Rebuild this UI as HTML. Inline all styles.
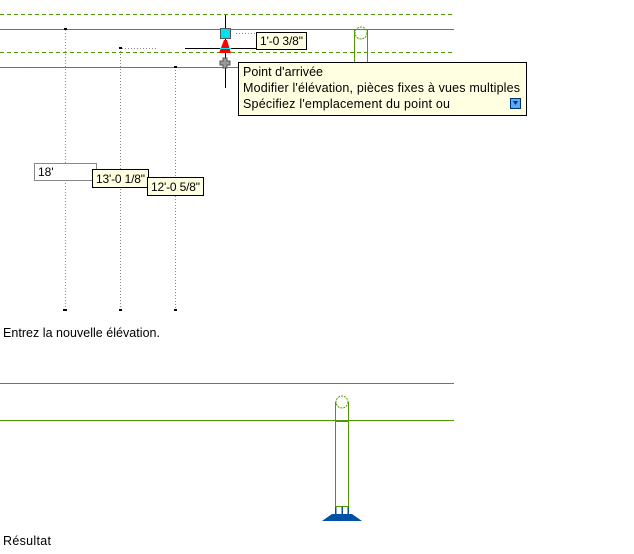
<!DOCTYPE html>
<html><head><meta charset="utf-8"><style>
html,body{margin:0;padding:0;background:#fff;}
svg{display:block;font-family:"Liberation Sans",sans-serif;}
</style></head><body>
<svg width="634" height="554" viewBox="0 0 634 554" xmlns="http://www.w3.org/2000/svg">
<g stroke="#4f9a00" stroke-width="1" fill="none" shape-rendering="crispEdges">
<line x1="0" y1="14.5" x2="454" y2="14.5" stroke-dasharray="4,3"/>
<line x1="0" y1="52.5" x2="454" y2="52.5" stroke-dasharray="4,3"/>
<line x1="0" y1="29.5" x2="454" y2="29.5"/>
<line x1="0" y1="67.5" x2="238" y2="67.5"/>
<line x1="354.5" y1="30" x2="354.5" y2="62"/>
<line x1="367.5" y1="30" x2="367.5" y2="62"/>
</g>
<circle cx="361" cy="33" r="6" fill="none" stroke="#4f9a00" stroke-dasharray="2,1"/>
<g stroke="#888" stroke-width="1" stroke-dasharray="1,2" shape-rendering="crispEdges">
<line x1="65.5" y1="30" x2="65.5" y2="308"/>
<line x1="120.5" y1="48" x2="120.5" y2="308"/>
<line x1="175.5" y1="67" x2="175.5" y2="308"/>
<line x1="122" y1="48.5" x2="158" y2="48.5"/>
<line x1="236" y1="33.5" x2="256" y2="33.5"/>
</g>
<g fill="#000">
<rect x="64" y="28" width="3" height="2"/>
<rect x="119" y="47" width="3" height="2"/>
<rect x="174" y="66" width="3" height="2"/>
<rect x="63" y="309" width="4" height="2"/>
<rect x="119" y="309" width="3" height="2"/>
<rect x="174" y="309" width="3" height="2"/>
</g>
<g stroke="#000" stroke-width="1" shape-rendering="crispEdges">
<line x1="225.5" y1="15" x2="225.5" y2="88"/>
<line x1="185" y1="48.5" x2="256" y2="48.5"/>
</g>
<rect x="220.5" y="28.5" width="10" height="10" fill="#00e0f0" stroke="#555"/>
<polygon points="224,40 227,40 231,53 219,53" fill="#f00"/>
<line x1="220" y1="48.5" x2="231" y2="48.5" stroke="#0ee"/>
<path d="M223,58h4v3h3v4h-3v3h-4v-3h-3v-4h3z" fill="#999" stroke="#555"/>
<rect x="256.5" y="32.5" width="50" height="17" fill="#ffffe1" stroke="#000"/>
<text x="260" y="45" font-size="12" textLength="43">1'-0 3/8"</text>
<rect x="238.5" y="62.5" width="288" height="53" fill="#ffffe1" stroke="#000"/>
<text x="243" y="76" font-size="12.5" textLength="80">Point d'arrivée</text>
<text x="243" y="92" font-size="12.5" textLength="277">Modifier l'élévation, pièces fixes à vues multiples</text>
<text x="243" y="108" font-size="12.5" textLength="207">Spécifiez l'emplacement du point ou</text>
<rect x="510.5" y="98.5" width="10" height="10" fill="#5af" stroke="#036"/>
<path d="M513,101h5l-2.5,4z" fill="#036"/>
<rect x="34.5" y="163.5" width="62" height="17" fill="#fff" stroke="#888"/>
<text x="38" y="176" font-size="12">18'</text>
<rect x="92.5" y="169.5" width="56" height="18" fill="#ffffe1" stroke="#000"/>
<text x="96" y="183" font-size="12" textLength="49">13'-0 1/8"</text>
<rect x="147.5" y="177.5" width="56" height="18" fill="#ffffe1" stroke="#000"/>
<text x="151" y="191" font-size="12" textLength="49">12'-0 5/8"</text>
<text x="3" y="337" font-size="12.5" textLength="157">Entrez la nouvelle élévation.</text>
<g stroke="#4f9a00" stroke-width="1" fill="none" shape-rendering="crispEdges">
<line x1="0" y1="383.5" x2="454" y2="383.5"/>
<line x1="0" y1="420.5" x2="454" y2="420.5"/>
<rect x="335.5" y="402.5" width="13" height="104"/>
<line x1="335" y1="421.5" x2="349" y2="421.5"/>
</g>
<circle cx="342" cy="402" r="6" fill="#fff" stroke="#4f9a00" stroke-dasharray="2,1"/>
<g fill="#0050a8">
<rect x="335" y="507" width="1.5" height="7"/>
<rect x="341.5" y="507" width="1.5" height="7"/>
<rect x="347.5" y="507" width="1.5" height="7"/>
<path d="M322,521 L332,514 L352,514 L362,521 Z"/>
</g>
<text x="3" y="545" font-size="12.5" textLength="48">Résultat</text>
</svg>
</body></html>
